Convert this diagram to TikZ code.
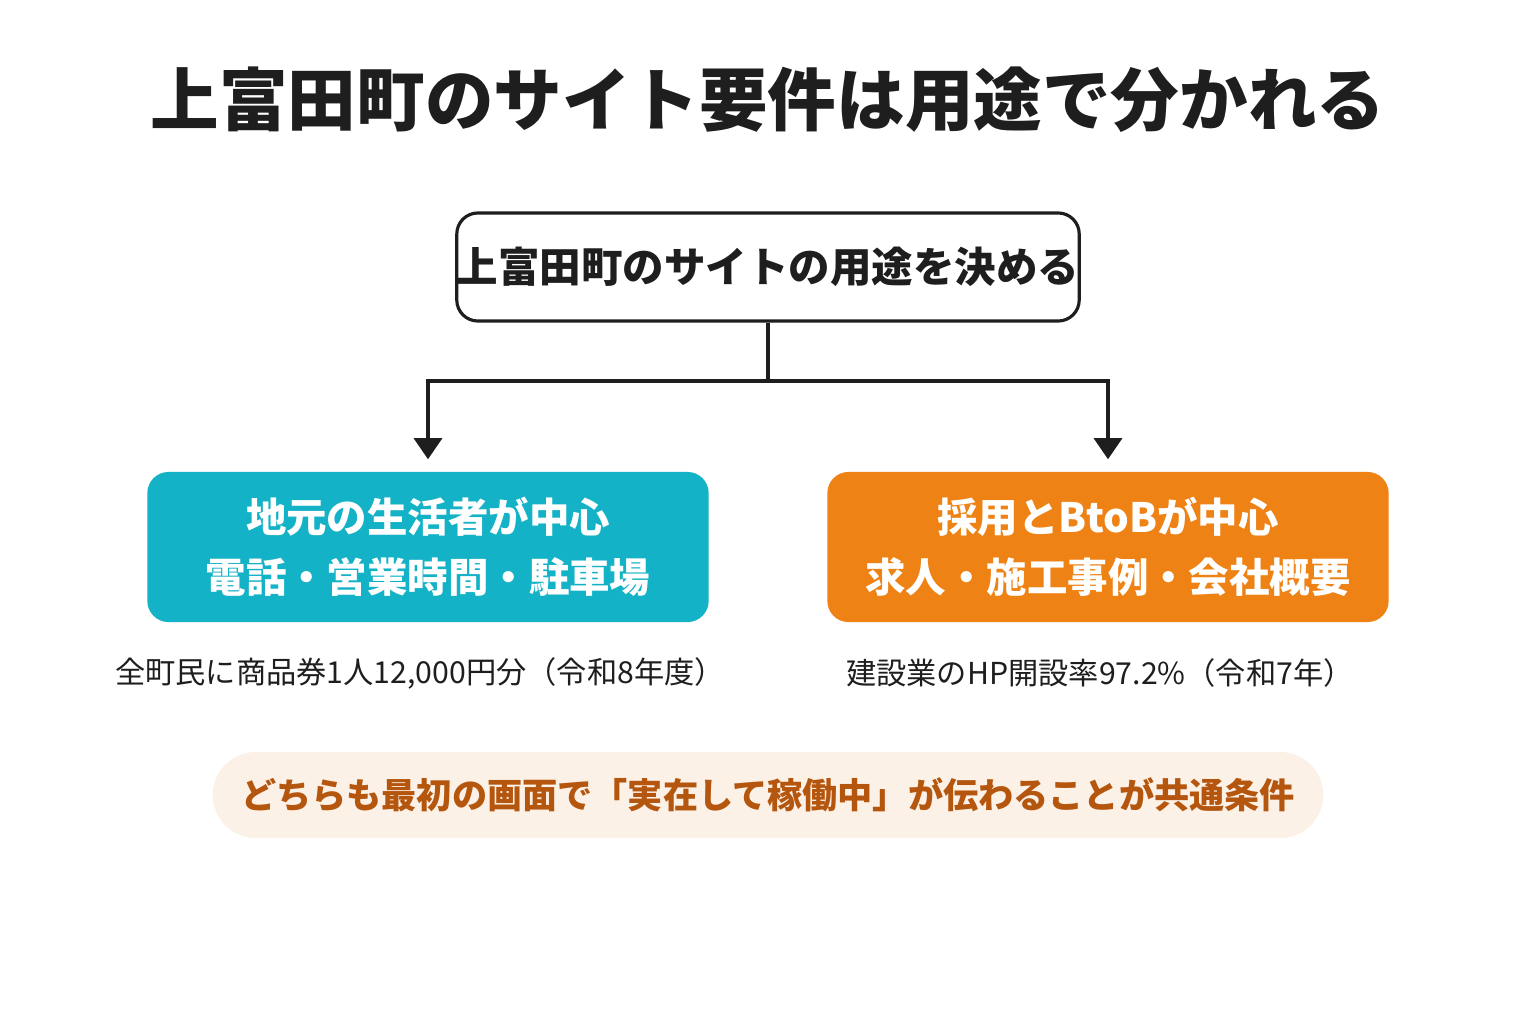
\documentclass[tikz,border=0pt]{standalone}
\usepackage{fontspec}
\setmainfont{Noto Sans CJK JP}
\usetikzlibrary{arrows.meta,positioning}
\definecolor{tealbox}{HTML}{13B2C6}
\definecolor{orangebox}{HTML}{EF8214}
\definecolor{pillfill}{HTML}{FCF1E6}
\definecolor{pilltext}{HTML}{B5560F}
\definecolor{ink}{HTML}{1E1E1E}
\tikzset{
  usebox/.style={rounded corners=6pt,minimum width=5.61cm,minimum height=1.5cm,
    text=white,font=\bfseries\fontsize{11.5}{17}\selectfont,align=center},
  note/.style={font=\fontsize{8.6}{10}\selectfont,text=ink},
  link/.style={draw=ink,line width=0.9pt,-{Triangle[length=6pt,width=8pt]},shorten >=0.12cm}
}
\begin{document}
\begin{tikzpicture}[x=0.01cm,y=-0.01cm]
    \useasboundingbox (0,0) rectangle (1536,1024);

    \node[font=\bfseries\fontsize{19.5}{22}\selectfont,text=ink] (title) at (768,100) {上富田町のサイト要件は用途で分かれる};

    \node[draw=ink,line width=0.9pt,rounded corners=6pt,minimum width=6.18cm,minimum height=1.08cm,
      inner sep=0pt,font=\bfseries\fontsize{11.8}{14}\selectfont,text=ink] (decide) at (768,267) {上富田町のサイトの用途を決める};

    \node[usebox,fill=tealbox] (local) at (428,547) {地元の生活者が中心\\電話・営業時間・駐車場};
    \node[usebox,fill=orangebox] (btob) at (1108,547) {採用とBtoBが中心\\求人・施工事例・会社概要};

    \coordinate (split) at (768,381);
    \draw[draw=ink,line width=0.9pt] (decide.south) -- (split);
    \draw[link] (split) -| (local.north);
    \draw[link] (split) -| (btob.north);

    \node[note] (localnote) at (420,673) {全町民に商品券1人12,000円分（令和8年度）};
    \node[note] (btobnote) at (1100,673) {建設業のHP開設率97.2\%（令和7年）};

    \node[fill=pillfill,rounded corners=0.43cm,minimum width=11.1cm,minimum height=0.86cm,
      text=pilltext,font=\bfseries\fontsize{10}{12}\selectfont] (common) at (768,795)
      {どちらも最初の画面で「実在して稼働中」が伝わることが共通条件};
\end{tikzpicture}
\end{document}
